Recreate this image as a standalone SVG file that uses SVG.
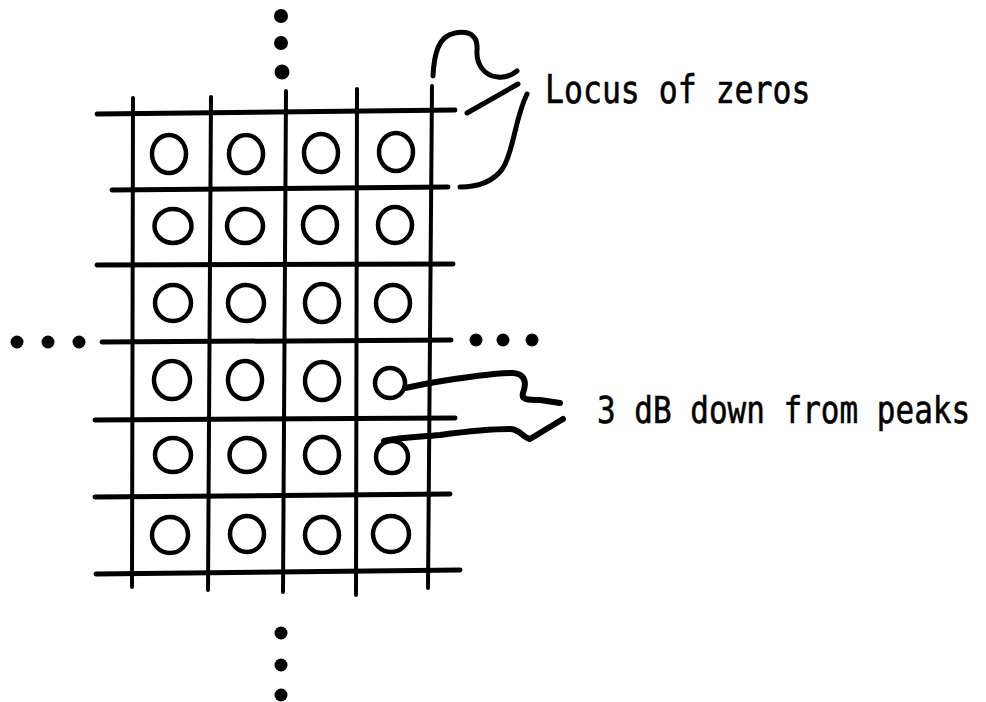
<svg xmlns="http://www.w3.org/2000/svg" width="986" height="702" viewBox="0 0 986 702">
  <style>
    .grid { stroke: #000; stroke-width: 4.5; stroke-linecap: round; fill: none; }
    .grid .h { stroke-width: 5; }
    .grid .v { stroke-width: 4; }
    .cell { stroke: #000; stroke-width: 4.5; fill: none; }
    .lead { stroke: #000; stroke-width: 5; stroke-linecap: round; stroke-linejoin: round; fill: none; }
    .dot { fill: #000; }
    .label { font-family: "DejaVu Sans Mono", "Liberation Mono", monospace; fill: #000; stroke: #000; stroke-width: 0.5; }
  </style>
  <rect width="986" height="702" fill="#fff"/>

  <!-- lattice lines -->
  <g id="grid" class="grid">
    <line class="h" x1="97" y1="114" x2="455" y2="110"/>
    <line class="h" x1="112" y1="190" x2="448" y2="187"/>
    <line class="h" x1="97" y1="265" x2="453" y2="264"/>
    <line class="h" x1="102" y1="342" x2="451" y2="340"/>
    <line class="h" x1="95" y1="420" x2="455" y2="418"/>
    <line class="h" x1="95" y1="497" x2="450" y2="494"/>
    <line class="h" x1="96" y1="574" x2="460" y2="570"/>
    <line class="v" x1="133" y1="98" x2="132" y2="587"/>
    <line class="v" x1="211" y1="97" x2="208" y2="590"/>
    <line class="v" x1="286" y1="91" x2="283" y2="592"/>
    <line class="v" x1="357" y1="89" x2="356" y2="595"/>
    <line class="v" x1="432" y1="86" x2="428" y2="588"/>
  </g>

  <!-- continuation dots -->
  <g id="continuation" class="dot">
    <circle cx="281" cy="16" r="7"/>
    <circle cx="281" cy="43" r="7"/>
    <circle cx="282" cy="72" r="7.5"/>
    <circle cx="281" cy="633" r="6.5"/>
    <circle cx="281" cy="665" r="6.5"/>
    <circle cx="281" cy="695" r="6.5"/>
    <circle cx="17" cy="342" r="6.5"/>
    <circle cx="48" cy="342" r="6.5"/>
    <circle cx="79" cy="342" r="6.5"/>
    <circle cx="476" cy="340" r="6.5"/>
    <circle cx="503" cy="340" r="6.5"/>
    <circle cx="532" cy="340" r="6.5"/>
  </g>

  <!-- peaks, one per cell -->
  <g id="peaks" class="cell">
    <ellipse id="p11" cx="169" cy="154" rx="17" ry="19"/>
    <ellipse id="p12" cx="246" cy="154" rx="17" ry="19"/>
    <ellipse id="p13" cx="321" cy="153" rx="17" ry="19"/>
    <ellipse id="p14" cx="396" cy="152" rx="17" ry="19"/>
    <ellipse id="p21" cx="173" cy="226" rx="18.5" ry="17"/>
    <ellipse id="p22" cx="245" cy="226" rx="18" ry="17"/>
    <ellipse id="p23" cx="320" cy="225" rx="17" ry="18"/>
    <ellipse id="p24" cx="395" cy="225" rx="17" ry="18"/>
    <ellipse id="p31" cx="173" cy="303" rx="18" ry="18"/>
    <ellipse id="p32" cx="246" cy="303" rx="18" ry="18"/>
    <ellipse id="p33" cx="322" cy="303" rx="17" ry="19"/>
    <ellipse id="p34" cx="393" cy="303" rx="17" ry="18"/>
    <ellipse id="p41" cx="172" cy="380" rx="18" ry="19"/>
    <ellipse id="p42" cx="245" cy="380" rx="17" ry="19"/>
    <ellipse id="p43" cx="322" cy="381" rx="17" ry="19"/>
    <ellipse id="p51" cx="173" cy="455" rx="18" ry="17"/>
    <ellipse id="p52" cx="247" cy="455" rx="17.5" ry="17"/>
    <ellipse id="p53" cx="322" cy="455" rx="17" ry="18"/>
    <ellipse id="p61" cx="170" cy="535" rx="18" ry="18"/>
    <ellipse id="p62" cx="247" cy="534" rx="17" ry="18"/>
    <ellipse id="p63" cx="322" cy="535" rx="17" ry="18"/>
    <ellipse id="p64" cx="391" cy="534" rx="18" ry="18"/>
  </g>

  <!-- half-power points -->
  <g id="halfpower-upper"><circle class="cell" cx="390" cy="383" r="15"/></g>
  <g id="halfpower-lower"><circle class="cell" cx="392" cy="457" r="16"/></g>

  <!-- leader strokes -->
  <g id="connectors" class="lead">
    <path d="M433,76 C434,55 438,36 455,33 C472,30 478,38 477,50 C476,64 484,76 498,77 C506,78 512,75 517,71"/>
    <path d="M467,113 L518,84"/>
    <path d="M527,94 C515,118 514,150 503,168 C494,181 478,187 460,187"/>
    <path d="M405,388 L430,383 C460,378 495,373 513,373 C527,374 526,385 523,393 C521,400 528,400 540,400 L560,403" stroke-width="6"/>
    <path d="M384,441 C400,437 420,437 440,435 C470,431 495,429 510,429 C520,429 522,437 530,439 L563,419" stroke-width="6"/>
  </g>

  <!-- labels: narrow lettering, stretched vertically -->
  <g id="label-locus" transform="translate(545,103) scale(1,1.22)">
    <text class="label" x="0" y="0" font-size="31.5">Locus of zeros</text>
  </g>
  <g id="label-3db" transform="translate(597,423) scale(1,1.22)">
    <text class="label" x="0" y="0" font-size="31">3 dB down from peaks</text>
  </g>
</svg>
